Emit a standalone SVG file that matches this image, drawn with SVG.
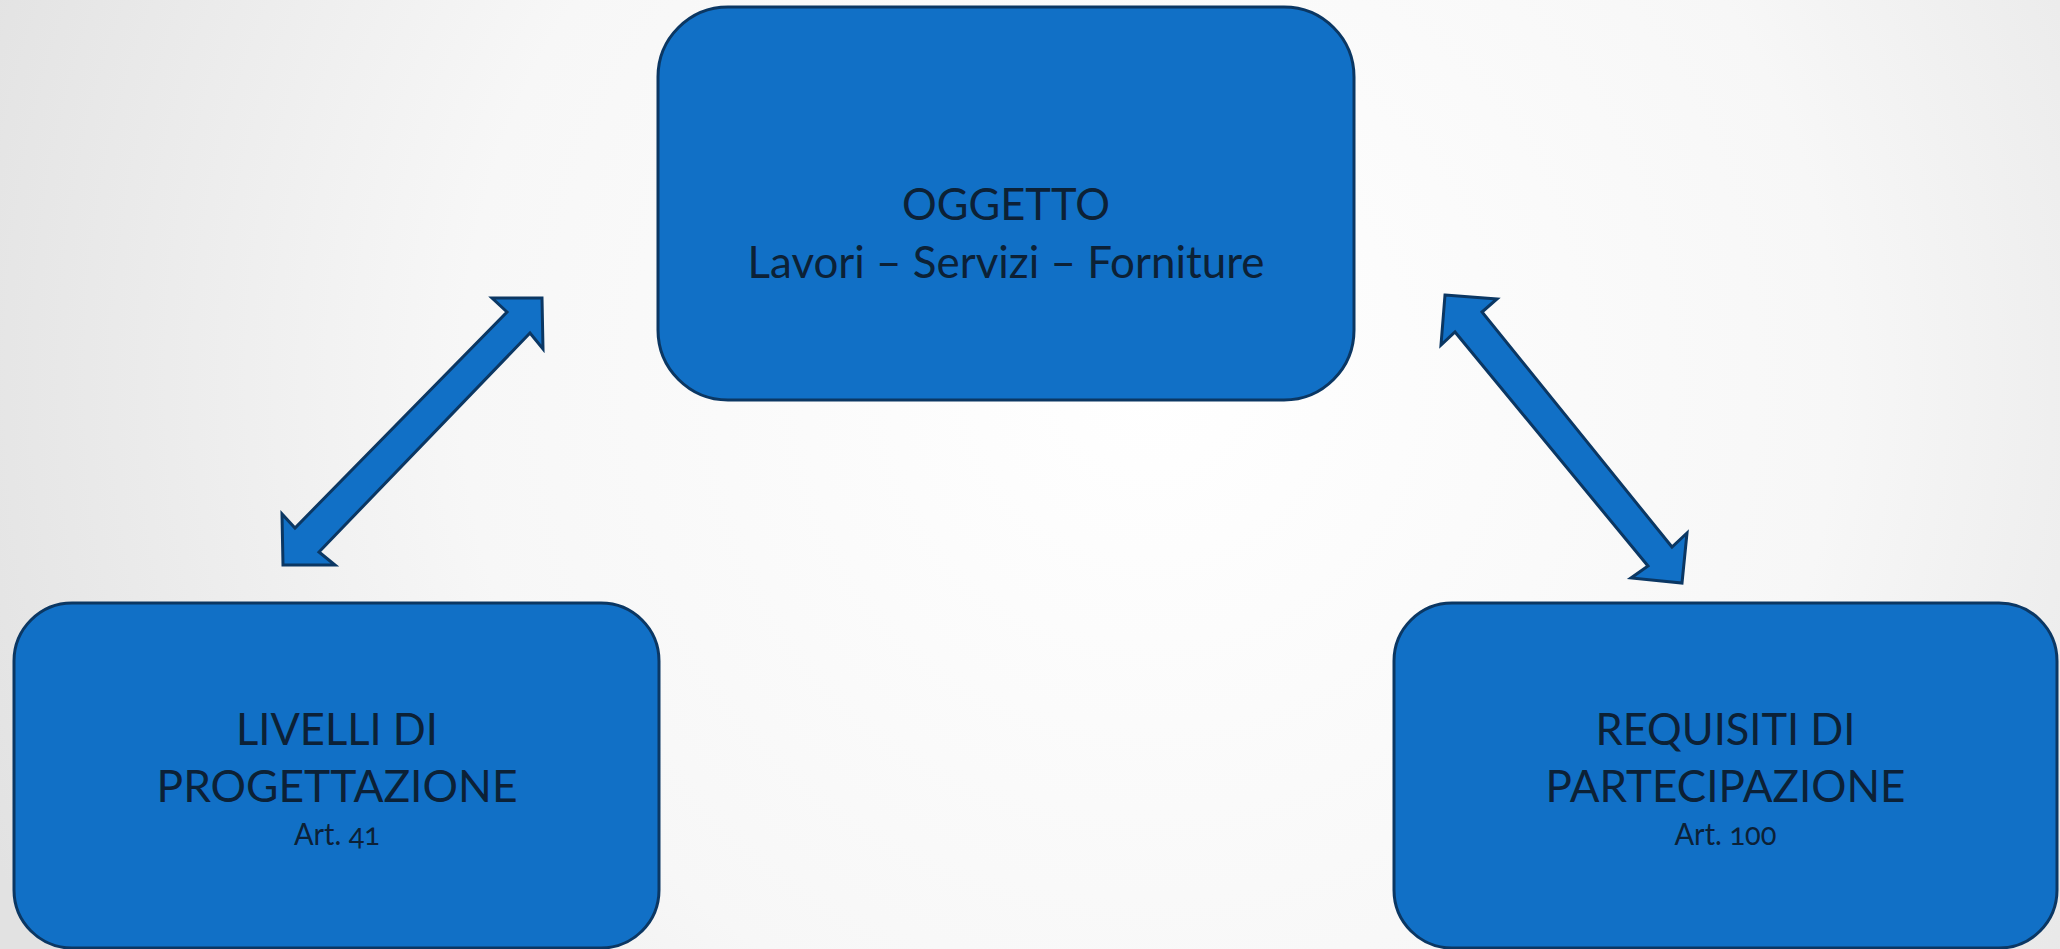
<svg xmlns="http://www.w3.org/2000/svg" width="2060" height="949" viewBox="0 0 2060 949">
  <defs>
    <radialGradient id="bg" cx="1150" cy="380" r="1250" gradientUnits="userSpaceOnUse">
      <stop offset="0" stop-color="#ffffff"/>
      <stop offset="0.55" stop-color="#f7f7f7"/>
      <stop offset="1" stop-color="#e2e2e2"/>
    </radialGradient>
  </defs>
  <style>
    .box { fill: #1170c6; stroke: #0b3763; stroke-width: 3; }
    .arrow { fill: #1170c6; stroke: #0b3763; stroke-width: 3; stroke-linejoin: miter; }
    .t { font-family: Lato, "Open Sans", "Liberation Sans", sans-serif; fill: #0c2136; text-anchor: middle; }
    .big { font-size: 45px; }
    .small { font-size: 31px; font-variant-numeric: oldstyle-nums; }
  </style>
  <rect x="0" y="0" width="2060" height="949" fill="url(#bg)"/>

  <g id="connectors">
    <polygon class="arrow" points="542,298 543,349 530,333 319,552 335,565 283,565 282,514 295,528 507,312 492,298"/>
    <polygon class="arrow" points="1445,295 1497,299 1482,312 1672,547 1687,533 1682,583 1631,578 1648,566 1455,332 1441,345"/>
  </g>

  <g id="node-oggetto">
    <rect class="box" x="658" y="7" width="696" height="393" rx="70" ry="70"/>
    <text class="t big" x="1006" y="220" textLength="208" lengthAdjust="spacingAndGlyphs">OGGETTO</text>
    <text class="t big" x="1006" y="278" textLength="517" lengthAdjust="spacingAndGlyphs">Lavori – Servizi – Forniture</text>
  </g>

  <g id="node-livelli">
    <rect class="box" x="14" y="603" width="645" height="345" rx="58" ry="58"/>
    <text class="t big" x="337" y="745" textLength="202" lengthAdjust="spacingAndGlyphs">LIVELLI DI</text>
    <text class="t big" x="337" y="802" textLength="361" lengthAdjust="spacingAndGlyphs">PROGETTAZIONE</text>
    <text class="t small" x="337" y="845" textLength="86" lengthAdjust="spacingAndGlyphs">Art. 41</text>
  </g>

  <g id="node-requisiti">
    <rect class="box" x="1394" y="603" width="663" height="345" rx="58" ry="58"/>
    <text class="t big" x="1725.5" y="745" textLength="260" lengthAdjust="spacingAndGlyphs">REQUISITI DI</text>
    <text class="t big" x="1725.5" y="802" textLength="360" lengthAdjust="spacingAndGlyphs">PARTECIPAZIONE</text>
    <text class="t small" x="1725.5" y="845" textLength="102" lengthAdjust="spacingAndGlyphs">Art. 100</text>
  </g>
</svg>
